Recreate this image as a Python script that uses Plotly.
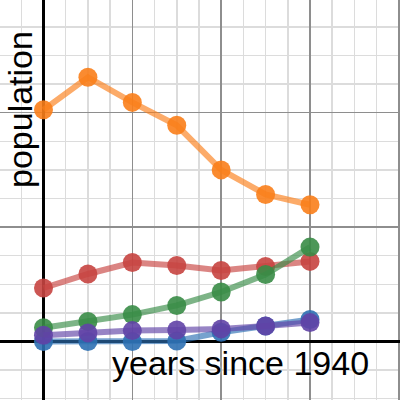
import plotly.graph_objects as go

years = [0, 10, 20, 30, 40, 50, 60]
red = [9.35, 11.8, 13.8, 13.3, 12.4, 13.1, 14.0]
blue = [0.0, 0.0, 0.0, 0.1, 1.6, 2.7, 3.85]
green = [2.4, 3.5, 4.7, 6.3, 8.65, 11.7, 16.5]
purple = [1.1, 1.5, 1.9, 2.0, 2.2, 2.7, 3.3]
orange = [40.5, 46.2, 41.8, 37.8, 30.0, 25.7, 23.9]

series = [
    (red, (199, 68, 64)),
    (blue, (45, 112, 179)),
    (green, (56, 140, 70)),
    (purple, (96, 66, 166)),
    (orange, (250, 126, 25)),
]

fig = go.Figure()
for vals, (r, g, b) in series:
    fig.add_trace(go.Scatter(
        x=years, y=vals, mode="lines+markers",
        line=dict(color=f"rgba({r},{g},{b},0.65)", width=6),
        marker=dict(color=f"rgba({r},{g},{b},0.9)", size=19, line=dict(width=0)),
        showlegend=False, hoverinfo="skip", cliponaxis=False,
    ))

axis_common = dict(
    showticklabels=False, ticks="", showline=False,
    showgrid=True, gridcolor="#8e8e8e", gridwidth=1.5,
    zeroline=True, zerolinecolor="black", zerolinewidth=3,
    tick0=0, dtick=20,
    minor=dict(dtick=5, showgrid=True, gridcolor="#dcdcdc", gridwidth=1.5),
)

fig.update_layout(
    width=400, height=400,
    margin=dict(l=0, r=0, t=0, b=0),
    paper_bgcolor="white", plot_bgcolor="white",
    xaxis=dict(range=[-9.79, 80.26], **axis_common),
    yaxis=dict(range=[-10.23, 59.70], **axis_common),
    font=dict(family="Liberation Sans, Arial, sans-serif", color="black"),
    annotations=[
        dict(text="years since 1940", xref="paper", yref="paper",
             x=240.5 / 400, y=1 - 363 / 400, xanchor="center", yanchor="middle",
             showarrow=False,
             font=dict(size=34, color="black", family="Liberation Sans, Arial, sans-serif",
                       shadow="0px 0px 3px white")),
        dict(text="population", xref="paper", yref="paper",
             x=20 / 400, y=1 - 110 / 400, xanchor="center", yanchor="middle",
             textangle=-90, showarrow=False,
             font=dict(size=34, color="black", family="Liberation Sans, Arial, sans-serif",
                       shadow="0px 0px 3px white")),
    ],
)

fig.write_html(
    "out.html",
    config={"displayModeBar": False, "staticPlot": True},
    post_script="document.body.style.margin='0px';document.body.style.padding='0px';document.body.style.overflow='hidden';",
)
